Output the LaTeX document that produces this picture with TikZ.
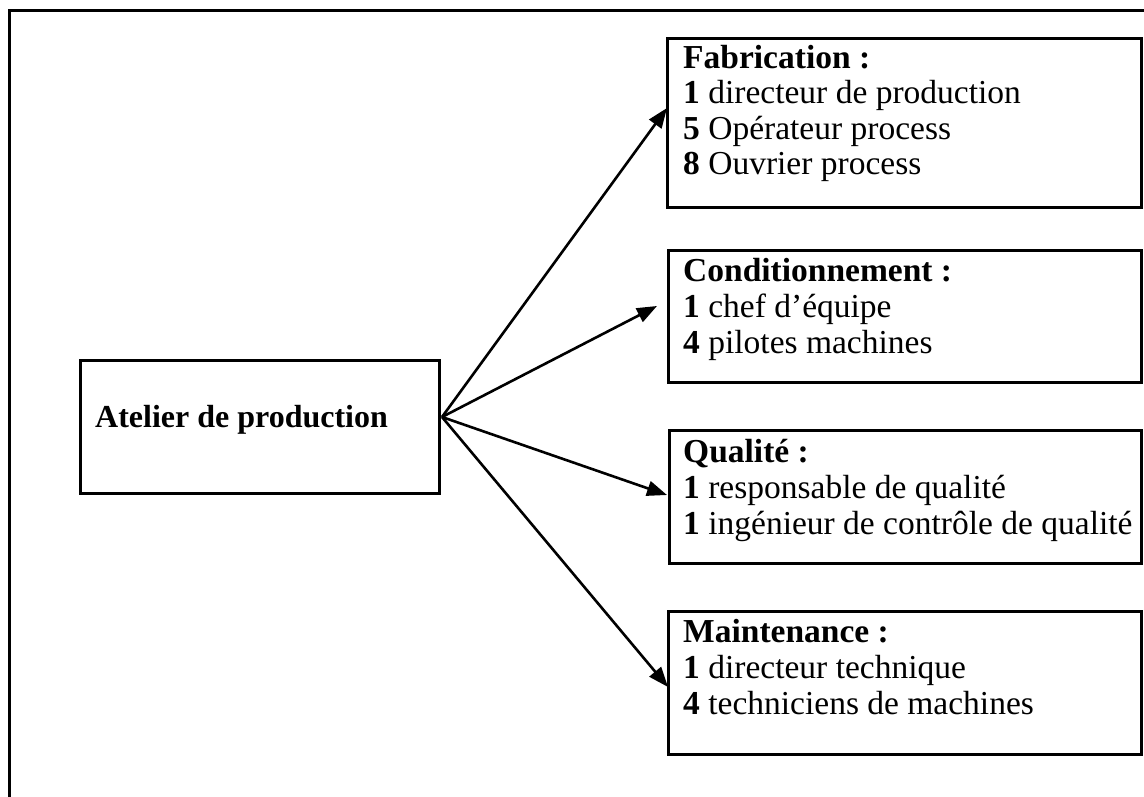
\documentclass[tikz,border=0pt]{standalone}
\usepackage{fontspec}
\setmainfont{Liberation Serif}
\usetikzlibrary{arrows.meta}
\begin{document}
\begin{tikzpicture}[x=1pt,y=-1pt,
  boxnode/.style={draw, line width=3pt, inner sep=0pt, outer sep=0pt},
  txt/.style={anchor=base west, inner sep=0pt, font=\fontsize{33.5}{36}\selectfont},
  maintxt/.style={anchor=base west, inner sep=0pt, font=\fontsize{32}{36}\selectfont},
  link/.style={line width=2.6pt, -{Triangle[length=20pt,width=15pt]}},
  frameline/.style={line width=3pt}]
\useasboundingbox (0,0) rectangle (1144,796);
\draw[frameline] (9,800) -- (9,10) -- (1150,10);
% boxes
\node[boxnode, minimum width=359pt, minimum height=133pt] (atelier) at (259.5,426.5) {};
\node[boxnode, minimum width=474pt, minimum height=169pt] (fab) at (904,122.5) {};
\node[boxnode, minimum width=473pt, minimum height=132pt] (cond) at (904.5,316) {};
\node[boxnode, minimum width=472pt, minimum height=133pt] (qual) at (905,496.5) {};
\node[boxnode, minimum width=473pt, minimum height=143pt] (maint) at (904.5,682.5) {};
% texts
\node[maintxt] (t0) at (95,427) {\bfseries Atelier de production};
\node[txt] (f1) at (683,68) {\bfseries Fabrication :};
\node[txt] (f2) at (683,103.5) {\textbf{1} directeur de production};
\node[txt] (f3) at (683,139) {\textbf{5} Opérateur process};
\node[txt] (f4) at (683,174.5) {\textbf{8} Ouvrier process};
\node[txt] (c1) at (683,281) {\bfseries Conditionnement :};
\node[txt] (c2) at (683,317) {\textbf{1} chef d’équipe};
\node[txt] (c3) at (683,353) {\textbf{4} pilotes machines};
\node[txt] (q1) at (683,462) {\bfseries Qualité :};
\node[txt] (q2) at (683,498) {\textbf{1} responsable de qualité};
\node[txt] (q3) at (683,534) {\textbf{1} ingénieur de contrôle de qualité};
\node[txt] (m1) at (683,642) {\bfseries Maintenance :};
\node[txt] (m2) at (683,678) {\textbf{1} directeur technique};
\node[txt] (m3) at (683,714) {\textbf{4} techniciens de machines};
% connectors
\coordinate (hub) at (442,417);
\draw[link] (hub) -- ([yshift=14.5pt]fab.west);
\draw[link] (hub) -- ([xshift=-11pt,yshift=10pt]cond.west);
\draw[link] (hub) -- ([xshift=-2pt,yshift=1.5pt]qual.west);
\draw[link] (hub) -- ([yshift=-4.5pt]maint.west);
\end{tikzpicture}
\end{document}
